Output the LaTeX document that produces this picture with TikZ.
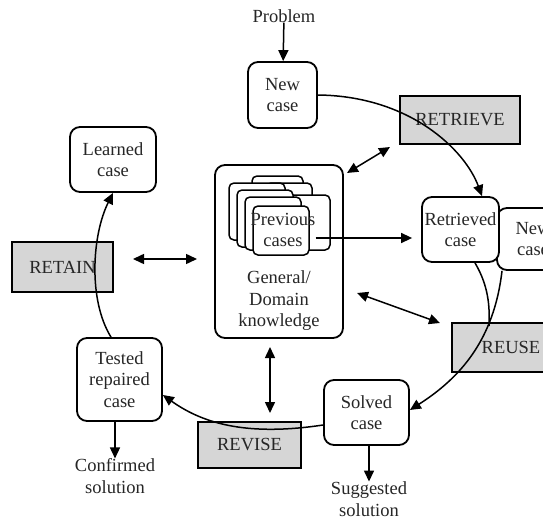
\documentclass[tikz,border=0pt]{standalone}
\usepackage{fontspec}
\setmainfont{Liberation Serif}
\usepackage{tikz}
\usetikzlibrary{positioning, arrows.meta}

\begin{document}
\begin{tikzpicture}[
        x=1pt, y=-1pt,
        txt/.style={font=\fontsize{18.5}{21.5}\selectfont, align=center, inner sep=0pt, text=black!85},
        casebox/.style={txt, draw, rounded corners=10pt, line width=1.8pt, fill=white},
        phase/.style={txt, draw, line width=1.8pt, fill=gray!32},
        card/.style={draw, rounded corners=5pt, line width=1.5pt, fill=white},
        arr/.style={line width=1.5pt, -{Triangle[length=11pt,width=10pt]}},
        darr/.style={line width=1.5pt, {Triangle[length=11pt,width=10pt]}-{Triangle[length=11pt,width=10pt]}},
        flow/.style={line width=1.5pt},
    ]
        \useasboundingbox (0,0) rectangle (543,519);
        \clip (0,0) rectangle (543,519);

        \node[txt] (problem) at (284,16) {Problem};
        \node[casebox, minimum width=69pt, minimum height=66pt] (newcase) at (282.5,95) {New\\case};
        \node[phase, minimum width=120pt, minimum height=48pt] (retrieve) at (460,120) {RETRIEVE};

        \node[casebox, minimum width=128pt, minimum height=173pt] (know) at (279,251.5) {};
        \draw[card] (252,176) rectangle (303,226);
        \draw[card] (266,183) rectangle (312,233);
        \draw[card] (280,195) rectangle (330,250);
        \draw[card] (229,183) rectangle (285,240);
        \draw[card] (237,190) rectangle (293,247);
        \draw[card] (245,197) rectangle (301,250);
        \draw[card] (253,206) rectangle (309,255);
        \node[txt] (prev) at (283,230) {Previous\\cases};
        \node[txt] (domain) at (279,301) {General/\\Domain\\knowledge};

        \node[casebox, minimum width=72pt, minimum height=62pt, text width=60pt] (newcase2) at (533,239) {New\\case};
        \node[casebox, minimum width=77pt, minimum height=65pt] (retrieved) at (460.5,229.5) {Retrieved\\case};
        \node[phase, minimum width=118pt, minimum height=49pt] (reuse) at (511,347.5) {REUSE};

        \node[casebox, minimum width=85pt, minimum height=65pt] (solved) at (366.5,412.5) {Solved\\case};
        \node[txt] (suggested) at (369,499) {Suggested\\solution};
        \node[phase, minimum width=103pt, minimum height=46pt] (revise) at (249.5,445) {REVISE};

        \node[casebox, minimum width=85pt, minimum height=83pt] (tested) at (119.5,379.5) {Tested\\repaired\\case};
        \node[txt] (confirmed) at (115,476) {Confirmed\\solution};
        \node[phase, minimum width=101pt, minimum height=50pt] (retain) at (62.5,267) {RETAIN};
        \node[casebox, minimum width=86pt, minimum height=65pt] (learned) at (113,159.5) {Learned\\case};

        \coordinate (kretr) at (347,173);
        \coordinate (rknow) at (390,147);
        \coordinate (kreuse) at (357,293);
        \coordinate (uknow) at (440,323);
        \coordinate (krev) at (270,347);
        \coordinate (vknow) at (270,413);
        \coordinate (kret) at (197,259);
        \coordinate (tknow) at (133,259);
        \coordinate (merge) at (489,326);

        \draw[arr] (problem) -- (newcase);
        \draw[arr] (newcase.east) .. controls (410,96) and (465,150) .. (retrieved.north -| 482,0);
        \draw[darr] (kretr) -- (rknow);
        \draw[arr, shorten >=9pt] (prev.east |- 0,238) -- (retrieved.west |- 0,238);
        \draw[darr] (kreuse) -- (uknow);
        \draw[flow] (retrieved.south -| 475,0) .. controls (488,285) and (490,305) .. (merge);
        \draw[arr] (newcase2.south -| 502,0) .. controls (494,340) and (460,378) .. (solved.east |- 0,410);
        \draw[arr] (solved.south -| 369,0) -- (suggested.north -| 369,0);
        \draw[darr] (krev) -- (vknow);
        \draw[arr] (solved.west |- 0,425) .. controls (250,436) and (205,425) .. (tested.east |- 0,395);
        \draw[arr] (tested.south -| 115,0) -- (confirmed.north -| 115,0);
        \draw[arr] (tested.north -| 111,0) .. controls (88,300) and (92,235) .. (learned.south);
        \draw[darr] (tknow) -- (kret);
    \end{tikzpicture}
\end{document}
